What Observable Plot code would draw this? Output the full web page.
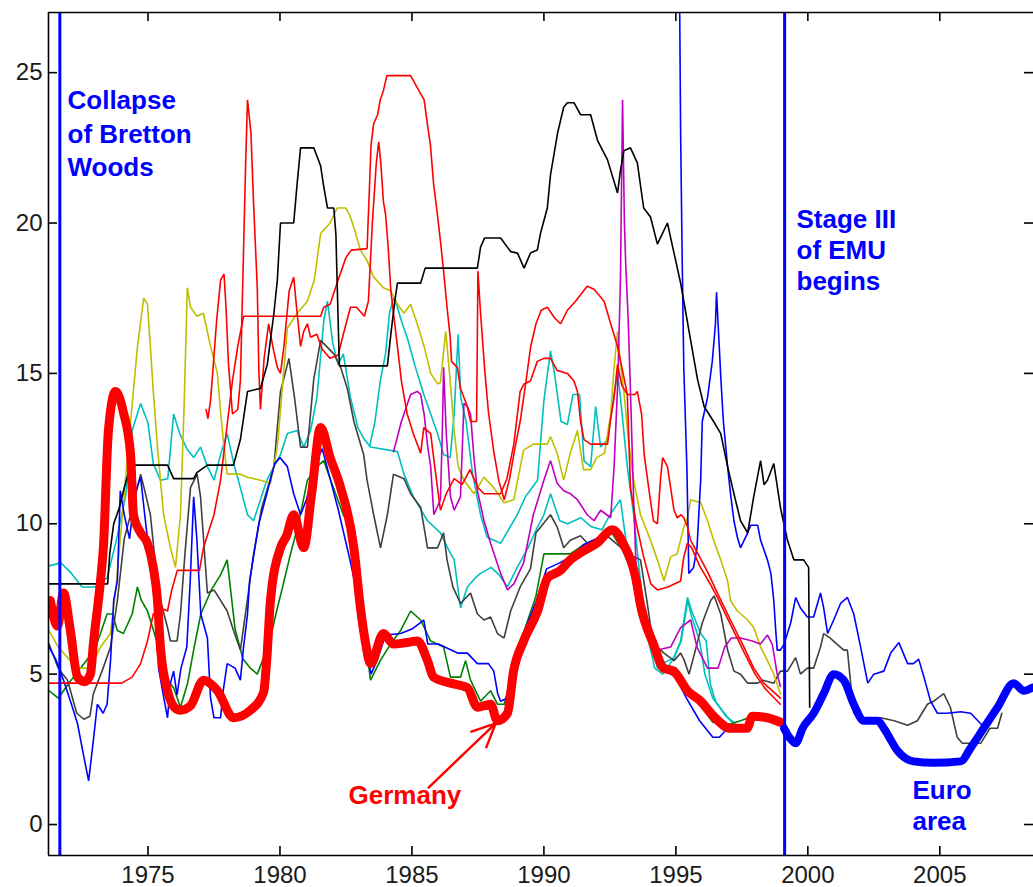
<!DOCTYPE html>
<html>
<head>
<meta charset="utf-8">
<script src="https://cdn.jsdelivr.net/npm/d3@7"></script>
<script src="https://cdn.jsdelivr.net/npm/@observablehq/plot@0.6"></script>
<style>
  html, body { margin: 0; padding: 0; background: #ffffff; overflow: hidden; }
  #chart svg { display: block; }
</style>
</head>
<body>
<div id="chart"></div>
<script>
// ---------- tick labels / events ----------
const xTicks = [1975, 1980, 1985, 1990, 1995, 2000, 2005];
const yTicks = [0, 5, 10, 15, 20, 25];
const eventYears = [1971.66, 1999.12];

// ---------- series: [year, short-term rate %] ----------
const germany = [[1971.3,7.45],[1971.57,6.6],[1971.8,7.7],[1972.05,6.5],[1972.33,4.9],[1972.6,4.75],[1972.82,5.0],[1972.93,6.0],[1973.2,8.1],[1973.31,9.2],[1973.5,13.1],[1973.77,14.4],[1974.07,13.7],[1974.34,12.3],[1974.45,10.3],[1974.72,9.7],[1974.98,9.35],[1975.2,8.55],[1975.36,7.45],[1975.47,5.9],[1975.74,4.45],[1976.0,3.9],[1976.23,3.8],[1976.61,3.95],[1977.1,4.8],[1977.63,4.45],[1978.24,3.55],[1978.88,3.8],[1979.38,4.4],[1979.5,5.5],[1979.64,7.45],[1980.02,9.2],[1980.25,9.6],[1980.52,10.3],[1980.9,9.2],[1981.2,11.0],[1981.54,13.2],[1981.9,12.2],[1982.3,11.2],[1982.8,9.2],[1983.05,7.2],[1983.25,6.0],[1983.43,5.35],[1983.92,6.35],[1984.3,6.0],[1984.8,6.05],[1985.21,6.1],[1985.59,5.45],[1985.82,4.9],[1986.46,4.7],[1987.1,4.55],[1987.48,3.9],[1987.98,4.0],[1988.24,3.45],[1988.62,3.7],[1988.85,5.1],[1989.23,6.1],[1989.76,7.1],[1990.14,8.2],[1990.63,8.45],[1991.0,8.8],[1991.5,9.1],[1992.0,9.35],[1992.6,9.8],[1993.0,9.35],[1993.5,8.1],[1993.66,7.3],[1994.15,6.0],[1994.53,5.2],[1994.91,5.1],[1995.44,4.45],[1995.94,4.1],[1996.43,3.6],[1997.07,3.2],[1997.7,3.2],[1997.9,3.6],[1998.47,3.55],[1998.96,3.4]];

const euroArea = [[1999.1,3.2],[1999.3,2.9],[1999.54,2.7],[1999.8,3.2],[2000.22,3.7],[2000.6,4.35],[2000.98,5.0],[2001.36,4.8],[2001.74,4.0],[2002.12,3.45],[2002.65,3.45],[2002.88,3.2],[2003.4,2.45],[2004.0,2.1],[2004.77,2.05],[2005.79,2.1],[2006.17,2.55],[2006.66,3.2],[2007.19,3.9],[2007.8,4.7],[2008.18,4.45],[2008.5,4.55]];

const blackSeries = [[1971.25,8.0],[1973.47,8.0],[1973.55,9.0],[1973.7,10.0],[1973.9,10.5],[1974.1,11.2],[1974.34,11.95],[1975.74,11.95],[1975.97,11.5],[1976.73,11.5],[1976.85,11.7],[1977.25,11.95],[1978.24,11.95],[1978.5,12.8],[1978.77,14.4],[1979.26,14.5],[1979.52,15.3],[1979.77,17.0],[1979.9,18.1],[1980.02,20.0],[1980.52,20.0],[1980.65,21.3],[1980.78,22.5],[1981.28,22.5],[1981.54,21.9],[1981.66,21.2],[1981.8,20.5],[1982.04,20.5],[1982.12,19.6],[1982.17,17.9],[1982.25,15.25],[1984.07,15.25],[1984.2,16.3],[1984.35,17.4],[1984.45,18.0],[1985.33,18.0],[1985.5,18.5],[1987.48,18.5],[1987.6,19.2],[1987.75,19.5],[1988.36,19.5],[1988.74,19.05],[1989.0,19.0],[1989.25,18.5],[1989.49,19.0],[1989.75,19.1],[1989.87,19.65],[1990.13,20.5],[1990.25,21.6],[1990.52,23.0],[1990.75,23.85],[1990.89,24.0],[1991.14,24.0],[1991.39,23.6],[1991.77,23.6],[1992.03,22.75],[1992.41,22.1],[1992.79,21.0],[1992.9,21.75],[1993.03,22.4],[1993.28,22.5],[1993.54,22.0],[1993.78,20.5],[1994.04,20.2],[1994.3,19.3],[1994.68,20.0],[1994.93,19.0],[1995.18,18.0],[1995.3,17.4],[1995.4,16.9],[1995.56,16.1],[1995.82,14.8],[1996.07,13.9],[1996.43,13.4],[1996.7,13.0],[1996.96,11.9],[1997.2,11.0],[1997.45,10.1],[1997.72,9.7],[1997.95,10.9],[1998.21,12.1],[1998.34,11.3],[1998.47,11.45],[1998.71,12.0],[1998.97,10.5],[1999.23,9.45],[1999.47,8.8],[1999.84,8.8],[2000.03,8.55],[2000.07,3.9]];

const blueHigh = [[1995.12,30],[1995.18,23.0],[1995.24,18.75],[1995.3,15.2],[1995.42,11.8],[1995.49,8.35],[1995.67,8.55],[1995.8,9.2],[1995.94,11.45],[1996.0,13.4],[1996.2,14.2],[1996.38,15.4],[1996.5,16.65],[1996.54,17.7],[1996.6,16.65],[1996.7,14.9],[1996.8,13.4],[1996.96,11.9],[1997.07,11.0],[1997.2,10.1],[1997.33,9.55],[1997.45,9.2],[1997.72,9.7],[1997.84,9.95],[1998.1,9.95],[1998.21,9.45],[1998.47,8.8],[1998.6,8.35],[1998.71,7.45],[1998.78,6.5],[1998.84,5.8],[1998.96,5.8],[1999.1,6.0],[1999.35,6.7],[1999.54,7.55],[1999.72,7.2],[1999.98,6.9],[2000.22,6.9],[2000.48,7.7],[2000.6,7.2],[2000.75,6.35],[2000.98,6.8],[2001.24,7.35],[2001.5,7.55],[2001.74,7.0],[2002.0,5.9],[2002.27,4.7],[2002.5,5.0],[2002.88,5.1],[2003.14,5.7],[2003.45,6.05],[2003.78,5.35],[2004.0,5.35],[2004.2,5.5],[2004.4,4.9],[2004.65,4.1],[2004.91,3.7],[2005.29,3.7],[2005.79,3.75],[2006.17,3.7],[2006.55,3.35],[2006.7,3.2]];

const blueLow = [[1971.25,5.9],[1971.5,5.5],[1971.8,4.8],[1972.1,4.0],[1972.33,3.35],[1972.57,2.25],[1972.75,1.45],[1972.93,2.8],[1973.08,4.0],[1973.3,3.7],[1973.45,4.0],[1973.58,5.45],[1973.7,7.45],[1973.84,8.1],[1973.95,11.1],[1974.1,10.3],[1974.3,9.5],[1974.5,11.0],[1974.72,11.55],[1974.85,10.5],[1975.0,9.35],[1975.3,8.35],[1975.4,5.2],[1975.6,4.2],[1975.74,3.55],[1975.85,4.7],[1975.97,5.1],[1976.1,4.3],[1976.25,5.2],[1976.47,5.9],[1976.6,8.1],[1976.73,10.9],[1976.85,9.5],[1977.0,7.0],[1977.25,6.2],[1977.37,4.2],[1977.5,3.55],[1977.75,3.55],[1977.85,4.45],[1978.0,5.35],[1978.3,5.2],[1978.5,4.8],[1978.62,5.9],[1978.77,7.0],[1978.85,8.1],[1979.2,10.0],[1979.5,11.0],[1979.8,12.0],[1980.0,12.2],[1980.28,11.9],[1980.52,11.0],[1980.78,10.3],[1981.0,10.8],[1981.4,12.1],[1981.6,12.5],[1981.9,11.5],[1982.2,10.5],[1982.6,9.0],[1982.9,7.8],[1983.2,6.3],[1983.45,5.0],[1983.7,5.5],[1984.0,6.3],[1984.57,6.35],[1985.0,6.5],[1985.45,6.8],[1985.6,6.0],[1986.0,6.0],[1986.73,5.7],[1987.1,5.7],[1987.48,5.35],[1987.9,5.35],[1988.1,5.1],[1988.25,4.35],[1988.36,4.1],[1988.6,4.2],[1988.85,5.3],[1989.2,6.3],[1989.7,7.4],[1990.1,8.5],[1990.6,8.7],[1991.0,8.9],[1991.5,9.3],[1992.0,9.5],[1992.5,9.9],[1993.0,9.2],[1993.5,7.9],[1993.9,6.9],[1994.2,5.8],[1994.6,5.1],[1995.0,4.9],[1995.4,4.2],[1995.9,3.45],[1996.4,2.9],[1996.65,2.9],[1996.96,3.2],[1997.5,3.25],[1998.0,3.5],[1998.5,3.5],[1998.96,3.4]];

const greenSeries = [[1971.25,4.45],[1971.6,4.2],[1972.0,4.7],[1972.44,5.2],[1972.8,5.6],[1973.1,6.1],[1973.45,7.0],[1973.65,7.0],[1973.84,6.45],[1974.07,6.35],[1974.4,7.0],[1974.6,7.9],[1974.75,7.45],[1974.98,7.1],[1975.47,5.7],[1975.74,4.8],[1975.97,4.55],[1976.23,3.9],[1976.5,4.7],[1976.75,5.9],[1977.0,7.0],[1977.4,7.8],[1977.75,8.3],[1978.0,8.8],[1978.3,6.5],[1978.6,5.5],[1978.88,5.2],[1979.14,5.0],[1979.38,5.55],[1979.64,6.2],[1979.9,7.2],[1980.1,7.9],[1980.4,9.0],[1980.7,10.0],[1981.04,11.45],[1981.4,11.9],[1981.66,12.1],[1981.9,11.5],[1982.4,10.3],[1982.8,9.7],[1983.05,8.0],[1983.25,6.0],[1983.43,4.8],[1983.8,5.45],[1984.19,6.0],[1984.57,6.45],[1984.95,7.1],[1985.33,6.8],[1985.71,6.1],[1986.2,5.9],[1986.46,4.9],[1986.84,4.9],[1987.03,5.45],[1987.22,4.8],[1987.6,4.1],[1987.98,4.45],[1988.24,4.0],[1988.5,4.0],[1988.85,5.3],[1989.2,6.3],[1989.7,7.6],[1990.0,9.0],[1990.5,9.0],[1991.0,9.0],[1991.5,9.3],[1992.0,9.5],[1992.5,9.8],[1993.0,9.1],[1993.5,8.0],[1993.9,6.9],[1994.2,6.0],[1994.6,5.3],[1995.0,5.2],[1995.4,4.6],[1995.9,4.0],[1996.4,3.4],[1996.9,3.3],[1997.45,3.45],[1997.9,3.6],[1998.5,3.55],[1998.96,3.45]];

const graySeries = [[1971.25,6.0],[1971.6,5.2],[1971.95,4.8],[1972.3,3.7],[1972.57,3.5],[1972.8,3.6],[1972.93,4.35],[1973.3,5.2],[1973.58,5.9],[1973.84,7.45],[1974.1,9.5],[1974.4,10.5],[1974.72,11.65],[1974.85,11.2],[1975.09,10.3],[1975.3,8.5],[1975.47,7.45],[1975.74,6.55],[1975.85,6.1],[1976.1,6.1],[1976.23,7.0],[1976.4,9.0],[1976.61,11.2],[1976.86,11.65],[1976.99,10.9],[1977.25,7.7],[1977.5,7.8],[1978.0,7.1],[1978.24,6.45],[1978.5,5.8],[1978.77,7.5],[1979.0,9.0],[1979.3,10.5],[1979.77,11.9],[1980.02,14.4],[1980.34,15.5],[1980.55,14.2],[1980.78,12.55],[1981.04,12.55],[1981.28,14.8],[1981.54,16.1],[1982.04,15.65],[1982.3,15.2],[1982.55,14.5],[1982.8,13.4],[1983.17,12.3],[1983.3,11.45],[1983.55,10.3],[1983.81,9.2],[1984.07,10.3],[1984.3,11.65],[1984.7,11.5],[1984.95,11.0],[1985.33,10.55],[1985.59,9.2],[1985.97,9.2],[1986.2,9.7],[1986.33,8.8],[1986.55,7.9],[1986.84,7.35],[1987.22,7.7],[1987.48,7.0],[1987.73,6.8],[1987.98,6.9],[1988.24,6.35],[1988.49,6.2],[1988.74,7.1],[1989.1,7.9],[1989.49,8.5],[1989.7,9.7],[1990.25,10.3],[1990.5,9.9],[1990.75,9.2],[1991.0,9.45],[1991.39,9.6],[1991.7,9.3],[1992.0,9.5],[1992.4,9.6],[1992.8,9.3],[1993.2,9.0],[1993.66,8.8],[1993.9,7.45],[1994.05,6.55],[1994.3,5.9],[1994.55,5.7],[1994.93,5.45],[1995.18,5.7],[1995.3,5.5],[1995.5,5.0],[1995.8,6.0],[1996.0,6.7],[1996.32,7.45],[1996.45,7.6],[1996.7,7.0],[1996.96,5.8],[1997.2,5.1],[1997.45,5.0],[1997.72,4.7],[1998.1,4.7],[1998.3,4.8],[1998.71,4.7],[1998.96,5.1],[1999.23,5.1],[1999.54,5.55],[1999.72,5.0],[1999.98,5.2],[2000.22,5.2],[2000.48,5.9],[2000.6,6.35],[2000.85,6.2],[2001.1,6.0],[2001.36,5.8],[2001.5,5.8],[2001.61,4.8],[2001.74,3.7],[2002.27,3.45],[2002.76,3.55],[2003.27,3.45],[2003.78,3.3],[2004.15,3.45],[2004.53,4.0],[2004.77,4.1],[2005.15,4.35],[2005.4,3.9],[2005.66,2.9],[2005.85,2.7],[2006.55,2.7],[2006.9,3.2],[2007.19,3.2],[2007.35,3.7]];

const yellowSeries = [[1971.25,6.45],[1971.6,5.9],[1972.3,5.2],[1972.8,5.2],[1973.2,5.9],[1973.58,6.35],[1973.8,8.0],[1974.0,10.0],[1974.3,13.0],[1974.6,15.9],[1974.84,17.5],[1974.98,17.3],[1975.09,15.9],[1975.2,14.4],[1975.36,12.55],[1975.59,10.3],[1975.85,9.2],[1976.04,8.55],[1976.23,10.3],[1976.36,13.7],[1976.49,17.85],[1976.61,17.2],[1976.86,16.9],[1977.1,17.0],[1977.37,15.9],[1977.63,15.0],[1977.75,13.7],[1977.88,12.55],[1978.0,11.65],[1978.5,11.65],[1978.77,11.55],[1979.26,11.45],[1979.64,11.35],[1979.9,12.55],[1980.28,16.5],[1980.65,17.0],[1981.04,17.4],[1981.3,18.1],[1981.54,19.65],[1981.9,20.0],[1982.17,20.5],[1982.5,20.5],[1982.67,20.2],[1982.85,19.7],[1983.05,19.1],[1983.3,18.75],[1983.55,18.2],[1983.92,17.85],[1984.19,17.75],[1984.45,17.3],[1984.7,17.0],[1984.95,17.3],[1985.2,16.65],[1985.46,15.9],[1985.71,15.0],[1985.97,14.65],[1986.08,14.7],[1986.28,16.4],[1986.45,14.75],[1986.6,13.1],[1986.75,11.9],[1986.97,11.45],[1987.35,11.0],[1987.73,11.55],[1988.1,11.2],[1988.49,10.7],[1988.86,10.8],[1989.23,12.45],[1989.6,12.65],[1990.13,12.65],[1990.25,12.9],[1990.5,12.35],[1990.75,11.45],[1991.0,12.35],[1991.27,13.1],[1991.5,11.8],[1991.77,11.8],[1992.0,12.2],[1992.3,12.35],[1992.53,13.65],[1992.66,15.2],[1992.79,16.4],[1992.9,15.3],[1993.03,14.4],[1993.2,12.8],[1993.4,11.45],[1993.66,10.3],[1994.04,9.45],[1994.3,8.8],[1994.55,8.1],[1994.8,8.9],[1995.05,9.0],[1995.3,9.9],[1995.44,10.2],[1995.56,10.8],[1995.94,10.7],[1996.2,10.1],[1996.43,9.45],[1996.7,8.8],[1996.96,8.1],[1997.07,7.45],[1997.33,7.1],[1997.72,6.8],[1997.95,6.55],[1998.21,5.9],[1998.47,5.45],[1998.71,5.0],[1998.96,4.35]];

const cyanA = [[1971.25,8.6],[1971.7,8.7],[1972.1,8.35],[1972.5,7.9],[1973.0,7.9],[1973.45,8.2],[1973.8,9.45],[1974.15,10.9],[1974.4,13.1],[1974.72,14.0],[1975.0,13.35],[1975.2,12.0],[1975.47,11.45],[1975.75,11.5],[1975.97,13.65],[1976.2,13.0],[1976.5,12.45],[1976.73,12.2],[1976.99,12.55],[1977.25,11.9],[1977.5,11.45],[1977.75,12.3],[1978.0,13.0],[1978.25,12.0],[1978.5,11.2],[1978.77,10.3],[1979.0,10.1],[1979.26,10.8],[1979.5,11.45],[1979.77,11.9],[1980.02,12.3],[1980.28,13.0],[1980.65,13.1],[1980.9,12.55],[1981.16,13.1],[1981.4,14.2],[1981.66,16.75],[1981.8,17.4],[1982.0,16.0],[1982.2,15.3],[1982.4,15.65],[1982.67,14.2],[1982.95,13.2],[1983.2,12.8],[1983.43,12.55],[1984.45,12.4],[1984.7,11.65],[1985.05,10.9],[1985.59,10.1],[1986.08,9.7],[1986.35,9.2],[1986.6,8.8],[1986.84,7.2],[1987.1,7.9],[1987.4,8.2],[1987.6,8.35],[1988.0,8.55],[1988.3,8.3],[1988.62,7.9],[1988.99,8.55],[1989.4,9.2],[1989.76,9.9],[1990.0,10.3],[1990.25,11.0],[1990.6,10.1],[1990.9,10.0],[1991.4,10.2],[1991.8,9.9],[1992.2,9.8],[1992.5,10.3],[1992.9,10.8],[1993.1,9.5],[1993.3,8.5],[1993.6,7.0],[1993.9,6.35],[1994.2,5.2],[1994.5,5.0],[1994.9,5.5],[1995.2,6.1],[1995.45,7.45],[1995.6,6.9],[1995.9,6.1],[1996.1,5.0],[1996.4,4.2],[1996.75,3.8],[1997.07,3.45],[1997.25,3.35]];

const cyanB = [[1983.4,12.6],[1983.6,13.4],[1983.8,14.75],[1984.0,15.65],[1984.15,17.0],[1984.3,17.5],[1984.45,17.2],[1984.6,16.75],[1984.85,16.1],[1985.1,15.3],[1985.45,14.3],[1985.71,13.65],[1985.97,13.0],[1986.2,12.3],[1986.45,12.2],[1986.6,13.65],[1986.75,16.3],[1986.85,14.2],[1987.05,13.4],[1987.3,11.65],[1987.6,10.3],[1987.85,9.55],[1988.36,9.35],[1988.99,10.3],[1989.3,10.9],[1989.76,11.45],[1990.0,14.1],[1990.25,15.75],[1990.4,15.0],[1990.65,13.4],[1990.89,13.3],[1991.1,14.3],[1991.35,14.3],[1991.52,12.1],[1991.77,11.9],[1991.96,13.9],[1992.15,12.55],[1992.41,12.8],[1992.66,14.3],[1992.79,15.0],[1992.9,14.2],[1993.16,11.9],[1993.4,10.3],[1993.6,8.55],[1993.8,7.0],[1994.05,6.35],[1994.3,5.2],[1994.6,5.4],[1994.93,5.55],[1995.18,6.1],[1995.44,7.55],[1995.6,7.1],[1995.94,6.35],[1996.15,6.1],[1996.3,4.7],[1996.5,4.1],[1996.9,3.6],[1997.2,3.4]];

const magentaSeries = [[1984.3,12.4],[1984.35,12.55],[1984.6,13.4],[1984.95,14.3],[1985.2,14.4],[1985.33,14.3],[1985.46,13.65],[1985.6,12.55],[1985.71,11.9],[1985.83,10.3],[1986.08,10.8],[1986.15,13.0],[1986.2,15.2],[1986.3,13.0],[1986.46,10.9],[1986.6,10.45],[1986.84,10.9],[1986.97,14.0],[1987.1,13.9],[1987.22,13.65],[1987.35,12.2],[1987.48,11.1],[1987.73,10.1],[1987.98,9.35],[1988.36,8.35],[1988.62,7.8],[1988.86,8.0],[1989.23,8.7],[1989.6,10.3],[1990.0,11.45],[1990.25,12.1],[1990.5,11.35],[1990.75,11.1],[1991.0,11.0],[1991.27,10.8],[1991.64,10.3],[1991.9,10.1],[1992.15,10.45],[1992.53,10.2],[1992.66,11.9],[1992.8,14.75],[1992.9,18.1],[1992.98,24.1],[1993.05,20.0],[1993.1,18.65],[1993.2,16.65],[1993.28,14.4],[1993.4,10.8],[1993.54,7.45],[1993.9,6.5],[1994.3,5.8],[1994.8,5.9],[1995.18,6.55],[1995.56,6.8],[1995.8,5.9],[1996.2,5.2],[1996.6,5.2],[1996.85,5.9],[1997.1,6.2],[1997.45,6.2],[1997.9,6.1],[1998.2,6.0],[1998.47,6.3],[1998.65,6.0],[1998.84,5.0],[1998.96,4.6]];

const redA = [[1971.25,4.7],[1974.0,4.7],[1974.4,4.9],[1974.72,5.35],[1974.98,6.1],[1975.2,7.0],[1975.47,7.2],[1975.74,7.1],[1975.9,7.8],[1976.11,8.45],[1976.95,8.45],[1977.1,9.2],[1977.5,10.3],[1977.75,11.45],[1978.0,13.3],[1978.2,14.75],[1978.4,15.9],[1978.62,16.9],[1981.54,16.9],[1981.66,17.2],[1981.9,17.3],[1982.2,18.1],[1982.5,18.85],[1982.7,19.1],[1983.3,19.15],[1983.4,21.4],[1983.45,22.6],[1983.55,23.3],[1983.7,23.6],[1983.8,24.1],[1983.92,24.4],[1984.05,24.9],[1984.95,24.9],[1985.2,24.5],[1985.46,24.1],[1985.6,23.2],[1985.7,22.6],[1985.82,21.3],[1985.95,20.4],[1986.08,19.4],[1986.2,18.4],[1986.33,17.2],[1986.45,16.2],[1986.5,15.4],[1986.72,15.2],[1986.84,14.5],[1986.97,14.2],[1987.1,13.9],[1987.22,13.4],[1987.45,13.4],[1987.5,18.4],[1987.6,17.0],[1987.75,15.2],[1987.9,13.7],[1988.1,12.4],[1988.3,11.4],[1988.5,10.8],[1988.7,11.5],[1988.9,12.5],[1989.1,13.4],[1989.3,14.6],[1989.5,15.9],[1989.7,16.65],[1989.9,17.1],[1990.13,17.2],[1990.4,16.85],[1990.63,16.65],[1990.89,17.1],[1991.2,17.4],[1991.64,17.9],[1991.9,17.8],[1992.28,17.4],[1992.53,16.65],[1992.79,15.9],[1993.0,15.0],[1993.16,14.3],[1993.45,14.3],[1993.54,14.4],[1993.7,13.65],[1993.8,12.3],[1994.0,11.0],[1994.15,10.1],[1994.3,10.0],[1994.42,11.5],[1994.5,12.2],[1994.68,11.9],[1994.8,11.2],[1994.93,10.45],[1995.05,10.2],[1995.2,10.3],[1995.3,10.2],[1995.44,9.9],[1995.56,9.45],[1995.9,8.9],[1996.2,8.4],[1996.57,7.7],[1997.07,6.8],[1997.58,5.9],[1997.95,5.2],[1998.33,4.7],[1998.71,4.4],[1998.96,4.2]];

const redB = [[1977.2,13.8],[1977.27,13.5],[1977.37,14.1],[1977.45,15.0],[1977.6,16.75],[1977.75,18.1],[1977.88,18.3],[1977.95,17.3],[1978.05,15.3],[1978.2,13.65],[1978.4,13.8],[1978.5,14.75],[1978.62,19.1],[1978.7,22.0],[1978.77,24.1],[1978.9,23.0],[1979.0,20.65],[1979.14,17.85],[1979.2,15.1],[1979.26,13.8],[1979.4,15.5],[1979.57,16.65],[1979.75,15.8],[1979.9,15.2],[1980.02,15.0],[1980.15,15.9],[1980.35,17.75],[1980.52,18.2],[1980.65,17.0],[1980.78,15.9],[1980.9,16.4],[1981.04,16.65],[1981.16,16.2],[1981.4,16.3],[1981.6,15.8],[1981.9,15.5],[1982.2,15.6],[1982.4,16.3],[1982.67,17.2],[1982.9,17.2],[1983.2,16.9],[1983.35,17.4],[1983.5,20.0],[1983.65,22.0],[1983.74,22.7],[1983.82,22.0],[1983.92,20.7],[1984.0,20.3],[1984.1,19.2],[1984.2,17.75],[1984.45,15.9],[1984.6,14.75],[1984.82,13.65],[1985.05,13.0],[1985.33,12.35],[1985.45,13.2],[1985.71,13.0],[1985.85,12.0],[1986.08,10.45],[1986.3,11.0],[1986.6,11.5],[1986.9,11.3],[1987.2,11.8],[1987.5,11.2],[1987.73,11.0],[1988.0,11.0],[1988.36,11.0],[1988.6,11.5],[1988.86,12.65],[1989.1,14.4],[1989.25,14.65],[1989.49,14.75],[1989.75,15.4],[1990.0,15.5],[1990.25,15.5],[1990.5,15.1],[1990.89,15.0],[1991.14,14.75],[1991.27,14.4],[1991.39,13.4],[1991.52,12.8],[1991.77,12.65],[1992.41,12.65],[1992.53,13.5],[1992.66,14.2],[1992.79,15.3],[1992.95,14.6],[1993.16,14.3],[1993.28,11.2],[1993.5,10.0],[1993.78,8.9],[1994.05,8.0],[1994.3,7.8],[1994.7,7.9],[1995.18,8.1],[1995.3,8.9],[1995.44,9.35],[1995.6,9.2],[1995.9,8.6],[1996.3,8.0],[1996.6,7.5],[1997.1,6.6],[1997.6,5.7],[1998.0,5.0],[1998.4,4.5],[1998.96,4.0]];

// ---------- annotation anchors (year, value) ----------
const arrowGermany = [{x1: 1985.63, y1: 1.23, x2: 1988.17, y2: 3.36}];

// ---------- layout ----------
const W = 1033, H = 887;
const mL = 48, mR = 0, mT = 12, mB = 32;
const plotW = W - mL - mR, plotH = H - mT - mB;
const xDomain = [1971.23, 2008.55];
const yDomain = [-1.03, 27.0];
const tick = 9;
const FONT = "'Liberation Sans', Arial, Helvetica, sans-serif";

const RED = "#ff0000", BLUE = "#0000ff";
const thinSeries = [
  {data: cyanA, stroke: "#00bfbf"},
  {data: cyanB, stroke: "#00bfbf"},
  {data: greenSeries, stroke: "#008000"},
  {data: graySeries, stroke: "#404040"},
  {data: yellowSeries, stroke: "#bfbf00"},
  {data: magentaSeries, stroke: "#bf00bf"},
  {data: blueLow, stroke: BLUE},
  {data: blueHigh, stroke: BLUE},
  {data: redB, stroke: RED},
  {data: redA, stroke: RED},
  {data: blackSeries, stroke: "#000000"}
];

const chart = Plot.plot({
  width: W, height: H,
  marginLeft: mL, marginRight: mR, marginTop: mT, marginBottom: mB,
  style: {fontFamily: FONT, background: "#ffffff", overflow: "visible"},
  x: {domain: xDomain},
  y: {domain: yDomain},
  marks: [
    ...thinSeries.map(s => Plot.line(s.data, {
      x: d => d[0], y: d => d[1], stroke: s.stroke, strokeWidth: 1.6,
      strokeLinejoin: "miter", clip: true
    })),
    Plot.line(germany, {x: d => d[0], y: d => d[1], stroke: RED, strokeWidth: 9,
      curve: "monotone-x", strokeLinecap: "round", strokeLinejoin: "round", clip: true}),
    Plot.line(euroArea, {x: d => d[0], y: d => d[1], stroke: BLUE, strokeWidth: 8,
      curve: "monotone-x", strokeLinecap: "round", strokeLinejoin: "round", clip: true}),
    Plot.ruleX(eventYears, {stroke: BLUE, strokeWidth: 3}),
    // frame (left, top, bottom)
    Plot.ruleX([xDomain[0]], {stroke: "#000", strokeWidth: 1.6}),
    Plot.ruleY([yDomain[0], yDomain[1]], {stroke: "#000", strokeWidth: 1.6}),
    // inward tick marks
    Plot.tickX(xTicks, {x: d => d, insetTop: plotH - tick, stroke: "#000", strokeWidth: 1.6}),
    Plot.tickX(xTicks, {x: d => d, insetBottom: plotH - tick, stroke: "#000", strokeWidth: 1.6}),
    Plot.tickY(yTicks, {y: d => d, insetRight: plotW - tick, stroke: "#000", strokeWidth: 1.6}),
    Plot.tickY(yTicks, {y: d => d, insetLeft: plotW - tick, stroke: "#000", strokeWidth: 1.6}),
    Plot.axisX({ticks: xTicks, tickSize: 0, tickPadding: 10, tickFormat: d => String(d),
      fontSize: 24, label: null, fill: "#1a1a1a"}),
    Plot.axisY({ticks: yTicks, tickSize: 0, tickPadding: 6, tickFormat: d => String(d),
      fontSize: 24, label: null, fill: "#1a1a1a"}),
    // annotations
    Plot.text(["Collapse\nof Bretton\nWoods"], {frameAnchor: "top-left", dx: 19, dy: 73,
      textAnchor: "start", lineAnchor: "top", lineHeight: 1.29, fontSize: 26,
      fontWeight: "bold", fill: BLUE}),
    Plot.text(["Stage III\nof EMU\nbegins"], {frameAnchor: "top-left", dx: 748, dy: 194,
      textAnchor: "start", lineAnchor: "top", lineHeight: 1.19, fontSize: 26,
      fontWeight: "bold", fill: BLUE}),
    Plot.text(["Euro\narea"], {frameAnchor: "top-left", dx: 864, dy: 765,
      textAnchor: "start", lineAnchor: "top", lineHeight: 1.19, fontSize: 26,
      fontWeight: "bold", fill: BLUE}),
    Plot.text(["Germany"], {frameAnchor: "top-left", dx: 300, dy: 773,
      textAnchor: "start", lineAnchor: "top", fontSize: 26,
      fontWeight: "bold", fill: RED}),
    Plot.arrow(arrowGermany, {x1: "x1", y1: "y1", x2: "x2", y2: "y2",
      stroke: RED, strokeWidth: 2.4, headLength: 16, headAngle: 50})
  ]
});

document.getElementById("chart").appendChild(chart);
</script>
</body>
</html>
